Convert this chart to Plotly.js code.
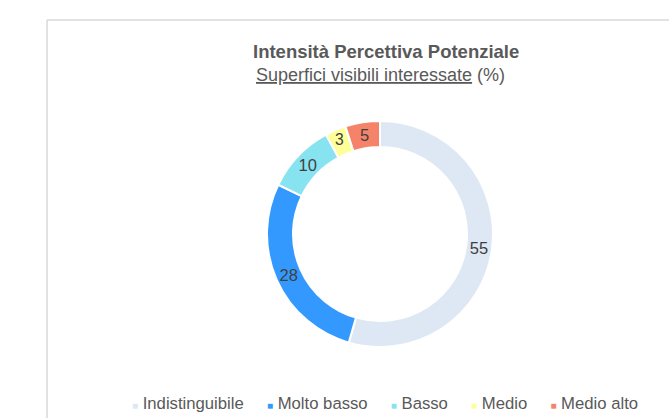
<!DOCTYPE html>
<html>
<head>
<meta charset="utf-8">
<script src="https://cdn.plot.ly/plotly-3.0.1.min.js"></script>
<style>html,body{margin:0;padding:0;background:#fff;}#chart{width:669px;height:418px;}</style>
</head>
<body>
<div id="chart"></div>
<script>
const categories = ['Indistinguibile', 'Molto basso', 'Basso', 'Medio', 'Medio alto'];
const values = [55, 28, 10, 3, 5];
const colors = ['#DEE8F4', '#3399FF', '#87E3F0', '#FFFF99', '#F5836A'];
const titleLine1 = 'Intensità Percettiva Potenziale';
const titleLine2 = 'Superfici visibili interessate';
const titleUnit = '(%)';

const W = 669, H = 418;
const cx = 380, cy = 234, R = 113;

const legendText = categories.map((c, i) =>
  `<span style="color:${colors[i]};font-size:10px">■</span>\u00A0${c}`
).join('\u00A0\u00A0\u00A0\u00A0\u00A0');

const data = [{
  type: 'pie',
  labels: categories,
  values: values,
  sort: false,
  direction: 'clockwise',
  rotation: 0,
  hole: 0.77,
  marker: {colors: colors, line: {color: '#FFFFFF', width: 2}},
  textinfo: 'value',
  textposition: 'inside',
  insidetextorientation: 'horizontal',
  textfont: {family: 'Liberation Sans, Arial, sans-serif', size: 16.5, color: '#404040'},
  showlegend: false,
  domain: {
    x: [(cx - R) / W, (cx + R) / W],
    y: [(H - cy - R) / H, (H - cy + R) / H]
  }
}];

const layout = {
  width: W, height: H,
  margin: {l: 0, r: 0, t: 0, b: 0},
  paper_bgcolor: '#FFFFFF',
  showlegend: false,
  font: {family: 'Liberation Sans, Arial, sans-serif', color: '#595959'},
  shapes: [
    {type: 'line', xref: 'paper', yref: 'paper', x0: 47 / W, x1: 1, y0: 1 - 20 / H, y1: 1 - 20 / H, line: {color: '#D9D9D9', width: 1.5}},
    {type: 'line', xref: 'paper', yref: 'paper', x0: 47 / W, x1: 47 / W, y0: 1 - 20 / H, y1: 0, line: {color: '#D9D9D9', width: 1.5}}
  ],
  annotations: [
    {xref: 'paper', yref: 'paper', x: 385.5 / W, y: 1 - 52 / H, xanchor: 'center', yanchor: 'middle', showarrow: false,
     text: `<b>${titleLine1}</b>`, font: {size: 18.5, color: '#595959'}},
    {xref: 'paper', yref: 'paper', x: 380 / W, y: 1 - 75 / H, xanchor: 'center', yanchor: 'middle', showarrow: false,
     text: `<u>${titleLine2}</u> ${titleUnit}`, font: {size: 18, color: '#595959'}},
    {xref: 'paper', yref: 'paper', x: 384.5 / W, y: 1 - 403 / H, xanchor: 'center', yanchor: 'middle', showarrow: false,
     text: legendText, font: {size: 16.7, color: '#595959'}}
  ]
};

Plotly.newPlot('chart', data, layout, {staticPlot: true, displayModeBar: false});
</script>
</body>
</html>
